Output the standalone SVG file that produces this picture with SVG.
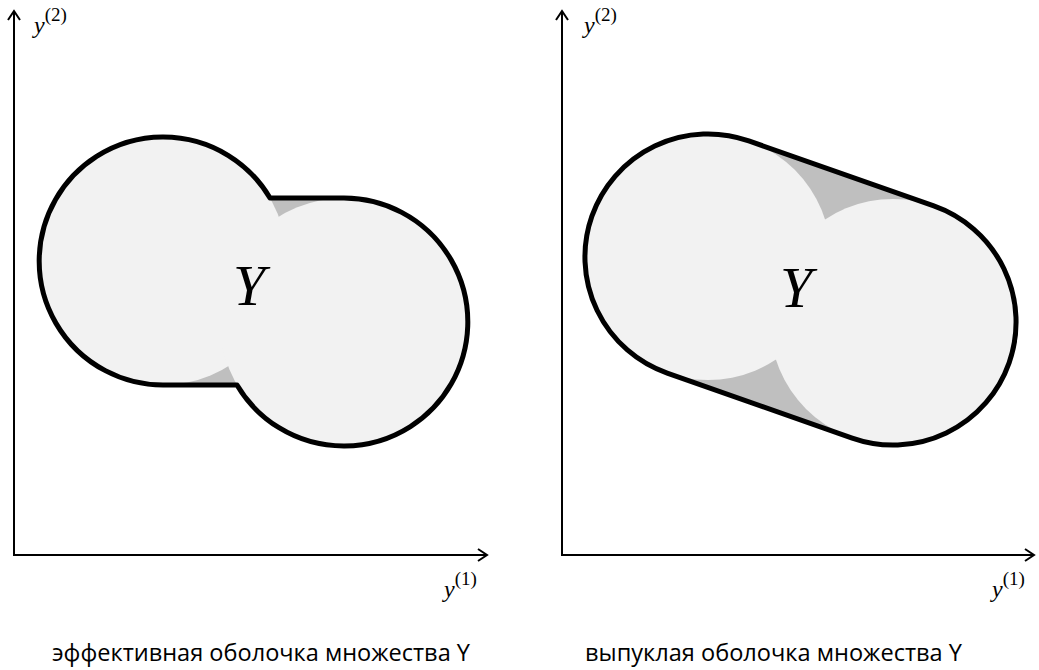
<svg xmlns="http://www.w3.org/2000/svg" width="1039" height="670" viewBox="0 0 1039 670">
<style>
.axis{stroke:#000;stroke-width:2;fill:none}
.hullfill{fill:#bfbfbf;stroke:none}
.disc{fill:#f2f2f2;stroke:none}
.hull{fill:none;stroke:#000;stroke-width:5;stroke-linejoin:round}
.lbl{font-family:"Liberation Serif",serif;font-size:24px;fill:#000}
.big{font-family:"Liberation Serif",serif;font-style:italic;font-size:58px;fill:#000}
.cap{font-family:"Open Sans","Liberation Sans",sans-serif;font-size:23px;fill:#000}
</style>
<defs>
<marker id="arr" markerUnits="userSpaceOnUse" markerWidth="16" markerHeight="16" viewBox="0 0 16 16" refX="13" refY="8" orient="auto">
<path d="M4,2 L13,8 L4,14" fill="none" stroke="#000" stroke-width="2"/>
</marker>
</defs>
<g id="connectors">
<line class="axis" x1="14" y1="556" x2="14" y2="11" marker-end="url(#arr)"/>
<line class="axis" x1="13" y1="555" x2="487" y2="555" marker-end="url(#arr)"/>
<line class="axis" x1="562" y1="556" x2="562" y2="11" marker-end="url(#arr)"/>
<line class="axis" x1="561" y1="555" x2="1034" y2="555" marker-end="url(#arr)"/>
</g>
<g id="effective-hull">
<path class="hullfill" d="M270,198 A124,124 0 1 0 163,385 L237,385 A124,124 0 1 0 344,198 Z"/>
<circle class="disc" cx="163" cy="261" r="124"/>
<circle class="disc" cx="344" cy="322" r="124"/>
<path class="hull" d="M270,198 A124,124 0 1 0 163,385 L237,385 A124,124 0 1 0 344,198 Z"/>
<text class="big" x="233" y="305">Y</text>
</g>
<g id="convex-hull">
<path class="hullfill" d="M748.8,140.9 A123,123 0 1 0 667.2,373.1 L852.2,438.1 A123,123 0 1 0 933.8,205.9 Z"/>
<circle class="disc" cx="708" cy="257" r="123"/>
<circle class="disc" cx="893" cy="322" r="123"/>
<path class="hull" d="M748.8,140.9 A123,123 0 1 0 667.2,373.1 L852.2,438.1 A123,123 0 1 0 933.8,205.9 Z"/>
<text class="big" x="780" y="307">Y</text>
</g>
<g id="labels">
<text class="lbl" x="34" y="33"><tspan font-style="italic">y</tspan><tspan dy="-12" font-size="19">(2)</tspan></text>
<text class="lbl" x="444" y="597"><tspan font-style="italic">y</tspan><tspan dy="-12" font-size="19">(1)</tspan></text>
<text class="lbl" x="584" y="33"><tspan font-style="italic">y</tspan><tspan dy="-12" font-size="19">(2)</tspan></text>
<text class="lbl" x="992" y="597"><tspan font-style="italic">y</tspan><tspan dy="-12" font-size="19">(1)</tspan></text>
<text class="cap" x="52" y="661" textLength="418" lengthAdjust="spacingAndGlyphs">эффективная оболочка множества Y</text>
<text class="cap" x="585" y="661" textLength="377" lengthAdjust="spacingAndGlyphs">выпуклая оболочка множества Y</text>
</g>
</svg>
